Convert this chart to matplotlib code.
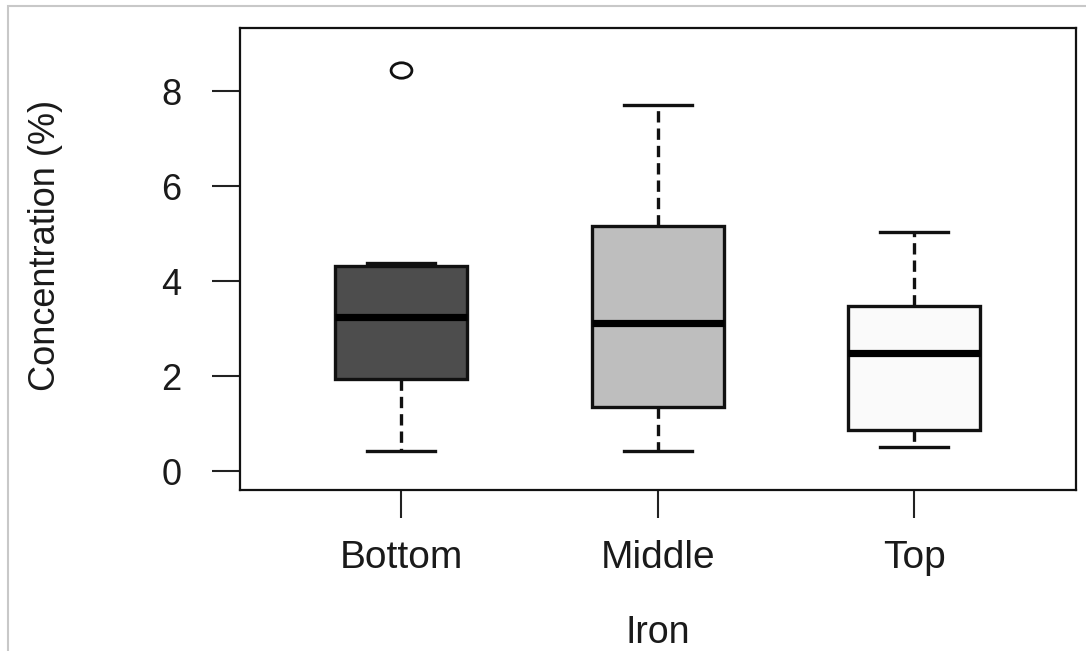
import matplotlib
matplotlib.use("Agg")
import matplotlib.pyplot as plt
from matplotlib.patches import Rectangle
from matplotlib.path import Path
from matplotlib.transforms import Affine2D

plt.rcParams['font.family'] = ['Liberation Sans', 'DejaVu Sans']

# Iron concentration by position
groups = ['Bottom', 'Middle', 'Top']
whislo = [0.42, 0.42, 0.51]
q1 = [1.94, 1.35, 0.86]
med = [3.24, 3.12, 2.48]
q3 = [4.32, 5.16, 3.47]
whishi = [4.38, 7.71, 5.03]
fliers = [[8.44], [], []]
fills = ['#4d4d4d', '#bebebe', '#fafafa']

stats = []
for i, g in enumerate(groups):
    stats.append(dict(label=g, whislo=whislo[i], q1=q1[i], med=med[i],
                      q3=q3[i], whishi=whishi[i], fliers=fliers[i]))

# the reference is a bit stretched sideways, so the outlier is an ellipse
oval = Path.unit_circle().transformed(Affine2D().scale(1.35, 1.0))

fig = plt.figure(figsize=(10.86, 6.51), dpi=100)
# light grey frame of the screenshot
fig.patches.append(Rectangle((8 / 1086, -0.1), 1.2, 1 - 6 / 651 + 0.1,
                             transform=fig.transFigure, fill=False,
                             edgecolor='#c8c8c8', linewidth=1.5))
ax = fig.add_axes([0.221, 0.2473, 0.7698, 0.7097])

bp = ax.bxp(stats, positions=[1, 2, 3], widths=0.515, capwidths=0.265,
            patch_artist=True,
            boxprops=dict(edgecolor='#111111', linewidth=2.4),
            medianprops=dict(color='black', linewidth=5.2, solid_capstyle='butt'),
            whiskerprops=dict(color='#111111', linewidth=2.4, linestyle=(0, (3.4, 1.8))),
            capprops=dict(color='#111111', linewidth=2.4),
            flierprops=dict(marker=oval, markersize=15, markerfacecolor='none',
                            markeredgecolor='#111111', markeredgewidth=2))
for patch, c in zip(bp['boxes'], fills):
    patch.set_facecolor(c)

ax.set_xlim(0.372, 3.63)
ax.set_ylim(-0.40, 9.33)
ax.set_yticks([0, 2, 4, 6, 8])

for s in ax.spines.values():
    s.set_linewidth(1.6)
    s.set_color('#111111')

ax.tick_params(axis='y', length=20, width=1.5, color='#222222', pad=22,
               labelsize=26, labelcolor='#1a1a1a')
ax.tick_params(axis='x', length=20, width=1.5, color='#222222', pad=16,
               labelsize=28, labelcolor='#1a1a1a')

ax.set_xlabel('Iron', fontsize=27, color='#1a1a1a')
ax.xaxis.set_label_coords(0.5, -0.27)
ax.set_ylabel('Concentration (%)', fontsize=26, color='#1a1a1a')
ax.yaxis.set_label_coords(-0.212, 0.53)

fig.savefig('out.png', dpi=100, facecolor='white')
